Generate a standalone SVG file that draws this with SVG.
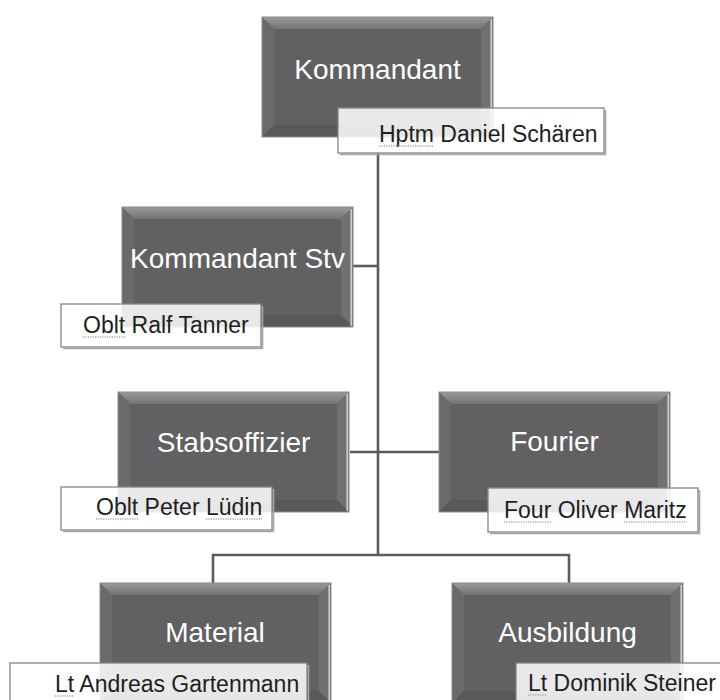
<svg xmlns="http://www.w3.org/2000/svg" xmlns:xlink="http://www.w3.org/1999/xlink" width="720" height="700" viewBox="0 0 720 700">
<style>
.t{font-family:"Liberation Sans",Arial,sans-serif;font-size:28px;fill:#ffffff;text-anchor:middle}
.n{font-family:"Liberation Sans",Arial,sans-serif;font-size:23px;fill:#1e1e1e}
.lbl{fill:#ffffff;fill-opacity:0.86;stroke:#858585;stroke-width:1.3}
.sh{fill:none;stroke:#a6a6a6;stroke-width:1.6}
.sq{stroke:#a8a8a8;stroke-width:1.4;stroke-dasharray:1.2 1.2;fill:none}
.conn{stroke:#5c5c5c;stroke-width:2.6;fill:none}
</style>
<defs>
<linearGradient id="gTop" x1="0" y1="0" x2="0" y2="1">
<stop offset="0" stop-color="#9a9a9c"/>
<stop offset="1" stop-color="#737375"/>
</linearGradient>
<g id="darkbox">
<rect width="231" height="120" fill="#616163"/>
<polygon points="0,0 231,0 219,12 12,12" fill="url(#gTop)"/>
<polygon points="0,0 12,12 12,108 0,120" fill="#6a6a6c"/>
<polygon points="231,0 231,120 219,108 219,12" fill="#707072"/>
<polygon points="0,120 12,108 219,108 231,120" fill="#59595b"/>
<line x1="229.2" y1="2" x2="229.2" y2="119" stroke="#d2d2d2" stroke-width="1.5"/>
<rect width="231" height="120" fill="none" stroke="#8c8c8c" stroke-width="1"/>
</g>
</defs>
<rect width="720" height="700" fill="#ffffff"/>

<g id="connectors">
<line class="conn" x1="378" y1="153" x2="378" y2="556"/>
<line class="conn" x1="353" y1="266" x2="378" y2="266"/>
<line class="conn" x1="350" y1="452" x2="439" y2="452"/>
<polyline class="conn" points="213,583 213,555 569,555 569,583"/>
</g>

<g id="kommandant">
<use xlink:href="#darkbox" x="262" y="17"/>
<text class="t" x="377.5" y="79">Kommandant</text>
<polyline class="sh" points="605.5,110 605.5,154.5 340,154.5"/>
<rect class="lbl" x="338" y="108" width="266" height="45"/>
<text class="n" x="379" y="142">Hptm Daniel Schären</text>
<line class="sq" x1="379" y1="146" x2="434" y2="146"/>
</g>

<g id="kommandant-stv">
<use xlink:href="#darkbox" x="122" y="207"/>
<text class="t" x="237.5" y="268">Kommandant Stv</text>
<polyline class="sh" points="262.5,306 262.5,348.5 63,348.5"/>
<rect class="lbl" x="61" y="304" width="200" height="43"/>
<text class="n" x="83" y="333">Oblt Ralf Tanner</text>
<line class="sq" x1="83" y1="337" x2="125" y2="337"/>
</g>

<g id="stabsoffizier">
<use xlink:href="#darkbox" x="118" y="392"/>
<text class="t" x="233.5" y="452">Stabsoffizier</text>
<polyline class="sh" points="273.5,489 273.5,531.5 63,531.5"/>
<rect class="lbl" x="61" y="487" width="211" height="43"/>
<text class="n" x="96" y="515">Oblt Peter Lüdin</text>
<line class="sq" x1="96" y1="519" x2="138" y2="519"/>
<line class="sq" x1="206" y1="519" x2="262" y2="519"/>
</g>

<g id="fourier">
<use xlink:href="#darkbox" x="439" y="392"/>
<text class="t" x="554.5" y="451">Fourier</text>
<polyline class="sh" points="699.5,490 699.5,533.5 490,533.5"/>
<rect class="lbl" x="488" y="488" width="210" height="44"/>
<text class="n" x="504" y="518">Four Oliver Maritz</text>
<line class="sq" x1="504" y1="522" x2="551" y2="522"/>
<line class="sq" x1="624" y1="522" x2="687" y2="522"/>
</g>

<g id="material">
<use xlink:href="#darkbox" x="100" y="583"/>
<text class="t" x="215" y="642">Material</text>
<polyline class="sh" points="308.5,665 308.5,710"/>
<rect class="lbl" x="10" y="663" width="297" height="45"/>
<text class="n" x="55" y="692">Lt Andreas Gartenmann</text>
<line class="sq" x1="55" y1="696" x2="74" y2="696"/>
</g>

<g id="ausbildung">
<use xlink:href="#darkbox" x="452" y="583"/>
<text class="t" x="567.5" y="642">Ausbildung</text>
<rect class="lbl" x="516" y="663" width="220" height="45"/>
<text class="n" x="528" y="691">Lt Dominik Steiner</text>
<line class="sq" x1="528" y1="695" x2="547" y2="695"/>
</g>
</svg>
